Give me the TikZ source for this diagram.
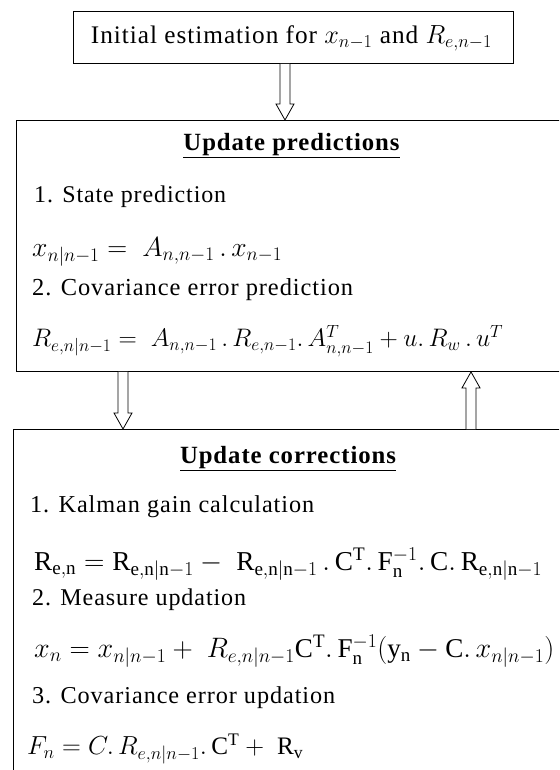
\documentclass[tikz,border=0pt]{standalone}
\usepackage{fontspec}
\setmainfont{Liberation Serif}[LetterSpace=3.8]
\usepackage{graphicx}
\usetikzlibrary{calc}
\newcommand\fitw[2]{\resizebox{#1pt}{!}{#2}}
\tikzset{
  box/.style={draw, line width=0.9pt, inner sep=0pt, anchor=north west},
  txt/.style={anchor=west, inner sep=0pt, font=\fontsize{24}{28}\selectfont},
  eq/.style={anchor=west, inner sep=0pt, font=\fontsize{24}{28}\selectfont},
  ttl/.style={anchor=center, inner sep=0pt, font=\fontsize{24}{28}\selectfont\bfseries},
  arr/.style={draw=black, line width=0.8pt, fill=white, line join=miter},
}
\begin{document}
\begin{tikzpicture}[x=1pt,y=-1pt]
\clip (0,0) rectangle (559,770);
\fill[white] (0,0) rectangle (559,770);
% boxes
\node[box, minimum width=440pt, minimum height=52pt] (init) at (73,11) {};
\node[box, minimum width=600pt, minimum height=251pt] (pred) at (16,120) {};
\node[box, minimum width=600pt, minimum height=400pt] (corr) at (12.5,429) {};
% top box text
\node[anchor=center, inner sep=0pt, font=\fontsize{24}{28}\selectfont] (initT) at (291.5,38)
  {\fitw{401}{Initial estimation for $x_{n-1}$ and $R_{e,n-1}$}};
% predictions
\node[ttl] (ptitle) at (291.5,146) {\fitw{216}{\underline{Update predictions}}};
\node[txt] (p1) at (34,197) {\fitw{192}{1. State prediction}};
\node[eq] (pe1) at (32,252) {\fitw{250}{$x_{n|n-1} = \;A_{n,n-1}\,.\,x_{n-1}$}};
\node[txt] (p2) at (32,290) {\fitw{321}{2. Covariance error prediction}};
\node[eq] (pe2) at (32,341) {\fitw{471}{$R_{e,n|n-1} = \;A_{n,n-1}\,.\,R_{e,n-1}.\,A^T_{n,n-1} + u.\,R_w\,.\,u^T$}};
% corrections
\node[ttl] (ctitle) at (288,459) {\fitw{216}{\underline{Update corrections}}};
\node[txt] (c1) at (30,507) {\fitw{284}{1. Kalman gain calculation}};
\node[eq] (ce1) at (34,564) {\fitw{508}{$\mathrm{R}_{\mathrm{e},\mathrm{n}} = \mathrm{R}_{\mathrm{e},\mathrm{n}|\mathrm{n}-1} - \;\mathrm{R}_{\mathrm{e},\mathrm{n}|\mathrm{n}-1}\,.\,\mathrm{C}^{\mathrm{T}}.\,\mathrm{F}_{\mathrm{n}}^{-1}.\,\mathrm{C}.\,\mathrm{R}_{\mathrm{e},\mathrm{n}|\mathrm{n}-1}$}};
\node[txt] (c2) at (32,600) {\fitw{214}{2. Measure updation}};
\node[eq] (ce2) at (34,651) {\fitw{520}{$x_n = x_{n|n-1} + \;R_{e,n|n-1}\mathrm{C}^{\mathrm{T}}.\,\mathrm{F}_{\mathrm{n}}^{-1}(\mathrm{y}_{\mathrm{n}} - \mathrm{C}.\,x_{n|n-1})$}};
\node[txt] (c3) at (32,698) {\fitw{303}{3. Covariance error updation}};
\node[eq] (ce3) at (27,749) {\fitw{276}{$F_n = C.\,R_{e,n|n-1}.\,\mathrm{C}^{\mathrm{T}} + \;\mathrm{R}_{\mathrm{v}}$}};
% hollow block arrows
\coordinate (a1) at (285,0);
\coordinate (a2) at (123,0);
\coordinate (a3) at (471,0);
\draw[arr] ($(a1 |- init.south)+(-5,0)$) -- ($(a1 |- pred.north)+(-5,-16)$) -- ++(-4,0)
  -- (a1 |- pred.north) -- ($(a1 |- pred.north)+(9,-16)$) -- ++(-4,0) -- ($(a1 |- init.south)+(5,0)$);
\draw[arr] ($(a2 |- pred.south)+(-5,0)$) -- ($(a2 |- corr.north)+(-5,-16)$) -- ++(-4,0)
  -- (a2 |- corr.north) -- ($(a2 |- corr.north)+(9,-16)$) -- ++(-4,0) -- ($(a2 |- pred.south)+(5,0)$);
\draw[arr] ($(a3 |- corr.north)+(-5,0)$) -- ($(a3 |- pred.south)+(-5,16)$) -- ++(-4,0)
  -- (a3 |- pred.south) -- ($(a3 |- pred.south)+(9,16)$) -- ++(-4,0) -- ($(a3 |- corr.north)+(5,0)$);
\end{tikzpicture}
\end{document}
